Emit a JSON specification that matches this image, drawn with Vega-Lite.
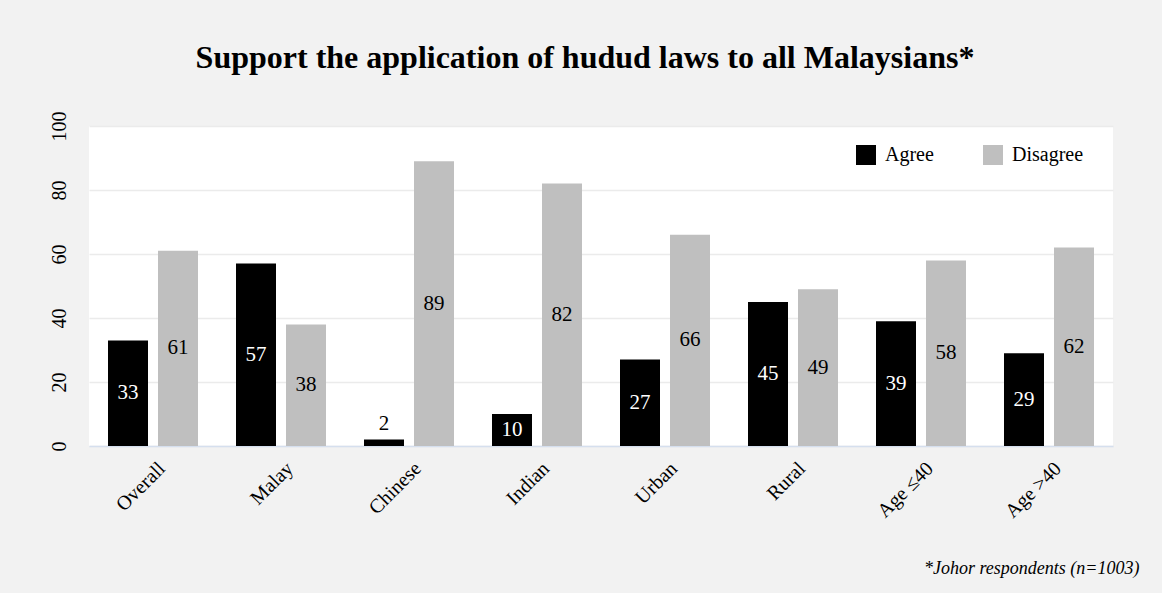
{
  "$schema": "https://vega.github.io/schema/vega-lite/v6.json",
  "width": 1024,
  "height": 320,
  "autosize": {"type": "none"},
  "padding": {"left": 89, "top": 126, "right": 49, "bottom": 147},
  "background": "#f2f2f2",
  "config": {"view": {"fill": "white", "stroke": null}, "font": "Liberation Serif"},
  "title": {
    "text": "Support the application of hudud laws to all Malaysians*",
    "font": "Liberation Serif",
    "fontSize": 32,
    "fontWeight": "bold",
    "color": "black",
    "anchor": "middle",
    "dx": -16,
    "baseline": "alphabetic",
    "offset": 11
  },
  "data": {
    "values": [
      {"group": "Overall", "response": "Agree", "value": 33},
      {"group": "Overall", "response": "Disagree", "value": 61},
      {"group": "Malay", "response": "Agree", "value": 57},
      {"group": "Malay", "response": "Disagree", "value": 38},
      {"group": "Chinese", "response": "Agree", "value": 2},
      {"group": "Chinese", "response": "Disagree", "value": 89},
      {"group": "Indian", "response": "Agree", "value": 10},
      {"group": "Indian", "response": "Disagree", "value": 82},
      {"group": "Urban", "response": "Agree", "value": 27},
      {"group": "Urban", "response": "Disagree", "value": 66},
      {"group": "Rural", "response": "Agree", "value": 45},
      {"group": "Rural", "response": "Disagree", "value": 49},
      {"group": "Age ≤40", "response": "Agree", "value": 39},
      {"group": "Age ≤40", "response": "Disagree", "value": 58},
      {"group": "Age >40", "response": "Agree", "value": 29},
      {"group": "Age >40", "response": "Disagree", "value": 62}
    ]
  },
  "transform": [{"calculate": "datum.value / 2", "as": "mid"}],
  "encoding": {
    "x": {
      "field": "group",
      "type": "nominal",
      "sort": null,
      "scale": {"paddingInner": 0, "paddingOuter": 0},
      "axis": {
        "title": "*Johor respondents (n=1003)",
        "titleFont": "Liberation Serif",
        "titleFontStyle": "italic",
        "titleFontWeight": "normal",
        "titleFontSize": 18,
        "titleColor": "black",
        "titleX": 1050,
        "titleY": 127,
        "titleAlign": "right",
        "titleBaseline": "alphabetic",
        "labelAngle": -45,
        "labelFont": "Liberation Serif",
        "labelFontSize": 20,
        "labelColor": "black",
        "labelPadding": 12,
        "labelOffset": 2,
        "ticks": false,
        "domainColor": "#d5dfee",
        "domainWidth": 1.5
      }
    },
    "xOffset": {
      "field": "response",
      "type": "nominal",
      "sort": ["Agree", "Disagree"],
      "scale": {"paddingInner": 0.2, "paddingOuter": 0.38}
    }
  },
  "layer": [
    {
      "mark": {"type": "bar"},
      "encoding": {
        "y": {
          "field": "value",
          "type": "quantitative",
          "scale": {"domain": [0, 100]},
          "axis": {
            "title": null,
            "values": [0, 20, 40, 60, 80, 100],
            "labelAngle": -90,
            "labelAlign": "center",
            "labelBaseline": "bottom",
            "labelFont": "Liberation Serif",
            "labelFontSize": 20,
            "labelColor": "black",
            "labelPadding": 20,
            "ticks": false,
            "domain": false,
            "gridColor": "#ebebeb",
            "gridWidth": 1.5
          }
        },
        "color": {
          "field": "response",
          "type": "nominal",
          "scale": {"domain": ["Agree", "Disagree"], "range": ["#000000", "#bfbfbf"]},
          "legend": {
            "title": null,
            "orient": "none",
            "legendX": 767,
            "legendY": 19,
            "direction": "horizontal",
            "symbolType": "square",
            "symbolSize": 400,
            "symbolStrokeWidth": 0,
            "symbolOpacity": 1,
            "labelFont": "Liberation Serif",
            "labelFontSize": 20,
            "labelColor": "black",
            "labelOffset": 9,
            "columnPadding": 49
          }
        }
      }
    },
    {
      "transform": [{"filter": "datum.value >= 5"}],
      "mark": {"type": "text", "font": "Liberation Serif", "fontSize": 21, "baseline": "middle"},
      "encoding": {
        "y": {"field": "mid", "type": "quantitative"},
        "text": {"field": "value", "type": "quantitative"},
        "color": {
          "condition": {"test": "datum.response === 'Agree'", "value": "white"},
          "value": "black"
        }
      }
    },
    {
      "transform": [{"filter": "datum.value < 5"}],
      "mark": {"type": "text", "font": "Liberation Serif", "fontSize": 21, "baseline": "alphabetic", "dy": -10, "color": "black"},
      "encoding": {
        "y": {"field": "value", "type": "quantitative"},
        "text": {"field": "value", "type": "quantitative"}
      }
    }
  ]
}
